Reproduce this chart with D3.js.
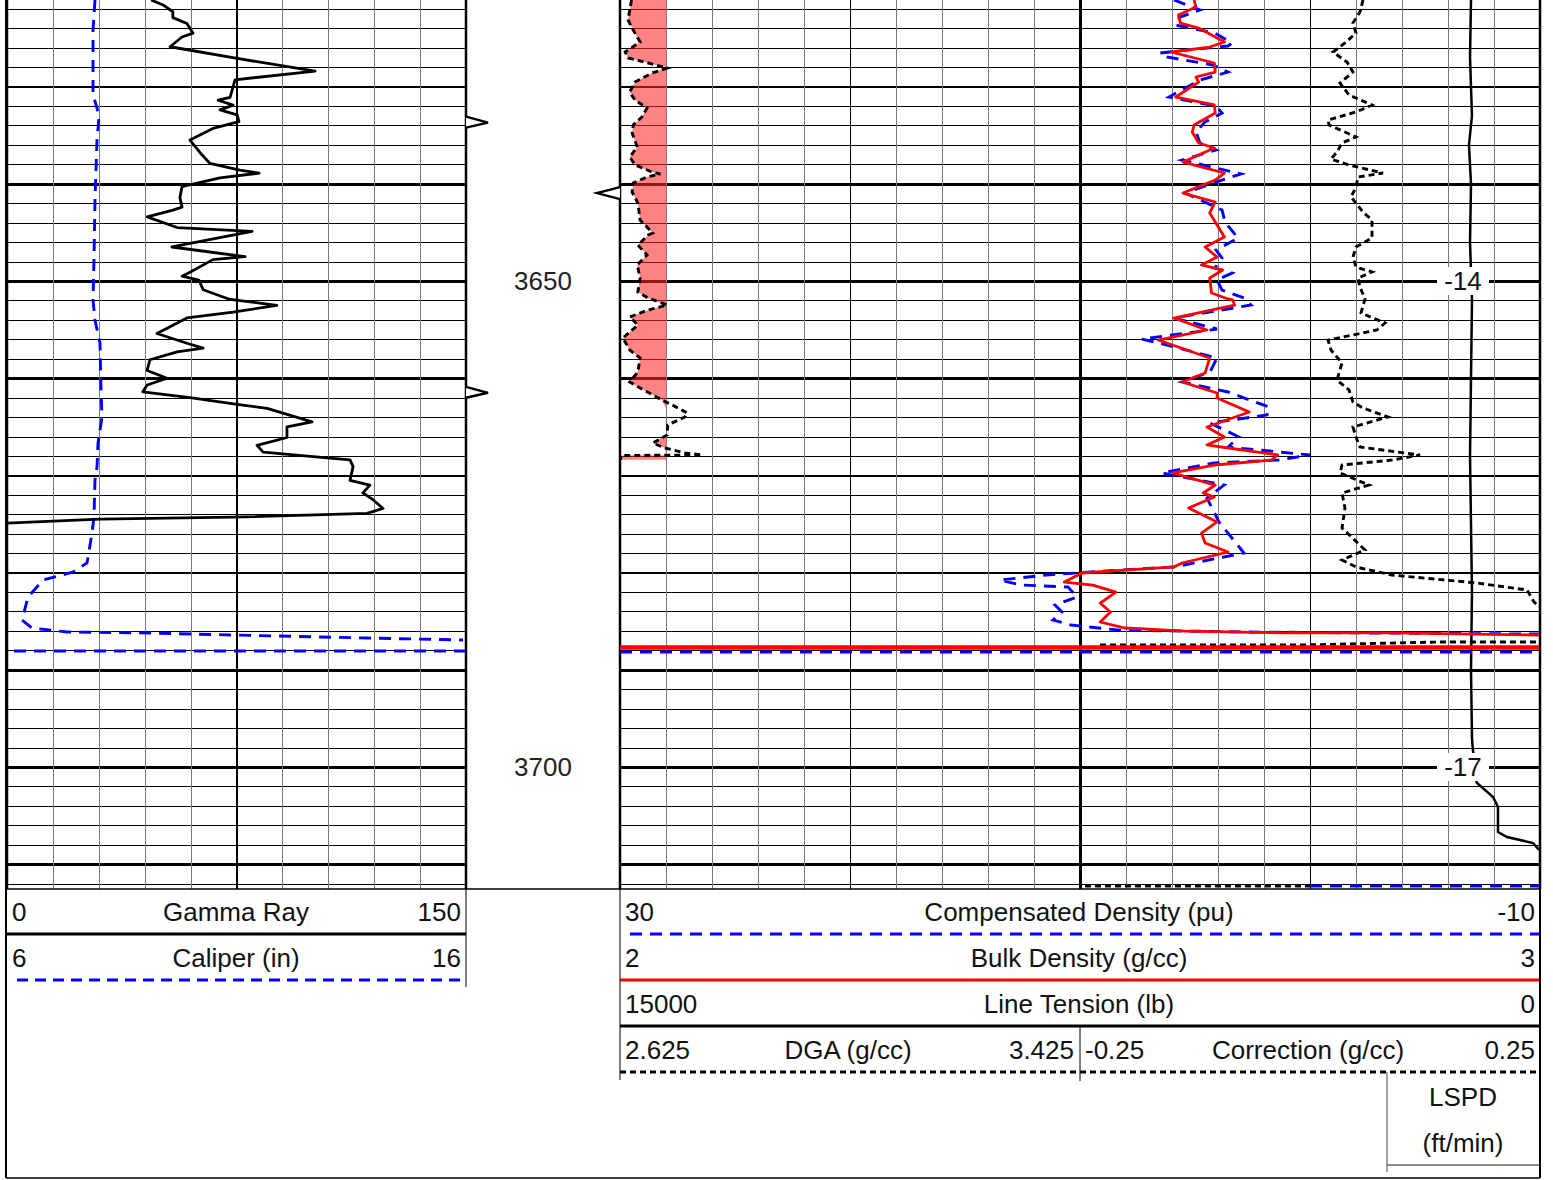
<!DOCTYPE html>
<html><head><meta charset="utf-8">
<script src="https://cdn.jsdelivr.net/npm/d3@7"></script>
<style>
body{margin:0;background:#fff}
svg{display:block}
text{font-family:"Liberation Sans",Arial,Helvetica,sans-serif;fill:#111}
</style>
</head><body>
<svg id="c" width="1553" height="1180"></svg>
<script>
// ---------- data ----------
const depthTop = 3621.09, depthBottom = 3712.55;
const depthLabels = [3650, 3700];
const lspdLabels = [[3650, "-14"], [3700, "-17"]];
const markersLeft = [3633.7, 3661.5];
const markersRight = [3640.95];

const gammaRay = [
[3621.09,47.1],[3621.6,51.0],[3622.3,54.2],[3622.9,54.2],[3623.5,58.8],[3624.5,60.8],[3624.9,57.2],[3625.9,53.3],
[3627.1,75.2],[3628.4,100.7],[3629.3,74.5],[3630.0,73.9],[3631.1,72.9],[3631.4,69.0],[3631.9,73.9],[3632.4,69.6],
[3632.9,75.2],[3633.6,75.8],[3634.3,67.3],[3635.5,59.8],[3636.8,63.1],[3637.9,66.3],[3638.6,76.1],[3638.9,82.4],
[3639.4,69.6],[3640.3,57.2],[3641.4,56.5],[3642.4,57.2],[3642.7,54.2],[3643.4,45.8],[3644.5,55.6],[3644.9,80.1],
[3646.5,53.9],[3647.5,77.8],[3647.8,67.3],[3649.1,59.8],[3649.5,57.2],[3649.9,62.7],[3650.9,64.1],[3651.9,72.9],
[3652.5,88.2],[3653.2,73.9],[3653.8,58.8],[3655.4,49.0],[3656.4,58.8],[3656.9,64.1],[3657.3,55.6],[3658.1,46.7],
[3659.2,45.8],[3660.0,52.3],[3660.7,45.8],[3661.4,44.4],[3662.0,59.8],[3662.7,75.2],[3663.1,85.0],[3664.5,99.7],
[3665.0,91.5],[3666.1,91.5],[3666.9,81.7],[3667.6,83.7],[3668.2,104.6],[3668.4,112.1],[3669.1,113.1],[3670.5,112.1],
[3671.0,118.6],[3671.8,116.3],[3672.5,119.6],[3673.4,122.9],[3673.9,117.6],[3674.3,73.9],[3674.5,30.4],[3674.9,0]
];

const caliper = [
[3621.09,7.917],[3624.18,7.874],[3630.86,7.874],[3632.20,7.961],[3633.13,8.004],[3635.49,7.961],[3641.67,7.917],
[3647.84,7.895],[3651.95,7.874],[3654.01,7.917],[3656.38,8.026],[3661.21,8.048],[3663.99,8.070],[3666.67,7.983],
[3669.13,7.961],[3670.47,7.917],[3674.28,7.895],[3675.93,7.852],[3679.01,7.743],[3679.94,7.438],[3680.76,6.784],
[3682.51,6.458],[3684.88,6.327],[3685.70,6.545],[3686.11,7.307],[3686.21,9.115],[3686.42,10.924],[3686.73,13.843],
[3686.93,15.935],
null,
[3688.07,16],[3688.07,6]
];

const compDensity = [
[3621.09,5.913],[3622.12,4.783],[3622.84,5.652],[3623.66,5.870],[3624.49,4.130],[3625.51,3.391],[3625.82,3.565],
[3626.54,6.522],[3626.95,6.217],[3627.78,4.217],[3628.50,3.565],[3629.32,4.783],[3631.07,6.130],[3631.99,4.087],
[3632.72,3.826],[3633.64,4.565],[3634.67,4.957],[3635.80,4.783],[3636.52,4.087],[3637.55,5.565],[3638.99,3.0],
[3639.61,3.826],[3640.95,5.435],[3642.69,3.826],[3643.93,3.696],[3645.58,3.130],[3646.81,4.087],[3647.63,3.826],
[3648.66,4.130],[3649.18,3.391],[3649.90,4.043],[3650.93,3.826],[3651.75,2.870],[3652.47,2.565],[3653.81,5.913],
[3654.94,4.043],[3655.97,7.304],[3656.58,6.217],[3657.92,4.043],[3659.36,4.348],[3660.39,5.565],[3661.42,3.565],
[3662.96,1.783],[3663.79,1.870],[3664.61,4.348],[3666.05,3.087],[3667.08,3.565],[3667.90,0.0],[3668.42,1.391],
[3668.72,4.174],[3669.75,6.435],[3670.99,3.739],[3672.33,4.478],[3674.79,3.957],[3677.98,2.870],[3679.42,5.913],
[3679.73,8.217],[3680.25,11.478],[3680.76,13.478],[3681.28,12.565],[3681.48,10.522],[3682.51,10.130],[3683.33,11.087],
[3684.05,10.783],[3684.88,11.174],[3685.39,10.391],[3685.91,8.348],[3686.11,2.652],[3686.21,-2.783],[3686.32,-10],
null,
[3688.17,30],[3688.17,-10],
null,
[3712.24,0],[3712.24,-10]
];

const bulkDensity = [
[3621.09,2.624],[3621.81,2.626],[3622.63,2.607],[3623.46,2.609],[3623.97,2.629],[3625.41,2.657],[3625.93,2.641],
[3626.44,2.599],[3627.57,2.646],[3628.50,2.647],[3629.01,2.626],[3629.53,2.629],[3631.07,2.604],[3631.89,2.646],
[3632.72,2.647],[3633.95,2.624],[3634.67,2.622],[3635.80,2.629],[3636.32,2.646],[3637.76,2.612],[3638.89,2.657],
[3639.61,2.647],[3640.95,2.612],[3641.87,2.647],[3643.00,2.641],[3645.47,2.657],[3646.50,2.636],[3647.53,2.649],
[3648.35,2.632],[3648.87,2.655],[3649.69,2.641],[3651.23,2.643],[3651.85,2.661],[3651.95,2.666],[3652.47,2.668],
[3653.81,2.602],[3655.04,2.638],[3656.07,2.585],[3657.92,2.641],[3659.46,2.636],[3660.39,2.611],[3661.52,2.649],
[3662.04,2.649],[3663.48,2.684],[3665.02,2.638],[3666.05,2.657],[3666.87,2.638],[3667.18,2.661],[3667.90,2.715],
[3668.42,2.708],[3668.93,2.646],[3669.75,2.601],[3670.99,2.647],[3671.81,2.634],[3672.22,2.646],[3673.35,2.618],
[3674.79,2.649],[3675.93,2.632],[3676.95,2.636],[3677.88,2.661],[3679.01,2.611],[3679.42,2.602],[3680.04,2.502],
[3680.97,2.483],[3681.28,2.514],[3682.00,2.539],[3683.13,2.522],[3684.05,2.533],[3685.08,2.522],[3685.70,2.549],
[3686.01,2.614],[3686.21,2.723],[3686.21,2.839],[3686.42,3.0],
null,
[3687.62,2.0],[3687.62,3.0],
null,
[3687.80,2.0],[3687.80,3.0]
];

const lineTension = [
[3621.09,1125],[3627,1141],[3633,1109],[3636,1158],[3640,1125],[3646,1141],[3652,1109],[3660,1125],
[3668,1141],[3675,1125],[3682,1109],[3690,1125],[3697,1109],[3698.05,1097],[3701.6,1032],[3703.08,766],
[3704.12,685],[3706.69,685],[3707.2,538],[3707.82,114],[3708.54,16]
];

const dga = [
[3621.09,2.645],[3623.15,2.639],[3624.18,2.648],[3625.41,2.660],[3626.44,2.634],[3627.06,2.639],[3627.47,2.668],
[3628.09,2.707],[3628.60,2.681],[3629.53,2.651],[3630.55,2.642],[3631.38,2.651],[3632.20,2.672],[3633.13,2.663],
[3633.95,2.648],[3634.77,2.646],[3636.21,2.655],[3637.24,2.642],[3638.06,2.651],[3638.79,2.681],[3638.99,2.695],
[3639.30,2.672],[3639.92,2.648],[3640.84,2.646],[3641.97,2.656],[3643.72,2.660],[3645.06,2.682],[3645.27,2.674],
[3646.30,2.656],[3647.32,2.672],[3648.35,2.655],[3649.69,2.660],[3651.13,2.656],[3651.75,2.674],[3652.47,2.707],
[3652.98,2.674],[3653.70,2.642],[3654.53,2.656],[3655.86,2.630],[3657.10,2.642],[3657.92,2.660],[3659.36,2.656],
[3660.39,2.642],[3661.01,2.660],[3662.24,2.698],[3663.06,2.726],[3663.58,2.742],[3663.99,2.738],[3664.81,2.708],
[3665.84,2.707],[3666.67,2.682],[3667.18,2.703],[3667.69,2.738],[3667.90,2.768],[3667.95,2.627],[3668.40,2.626]
];
const dgaCutoff = 2.705;

const correction = [
[3621.09,0.0576],[3622.32,0.0543],[3623.46,0.0467],[3624.49,0.05],[3625.51,0.038],[3626.44,0.025],[3627.47,0.0402],
[3628.50,0.0467],[3629.63,0.0326],[3630.86,0.0424],[3631.89,0.0674],[3632.61,0.05],[3633.44,0.0196],[3633.95,0.0207],
[3635.18,0.05],[3635.80,0.0348],[3636.73,0.0293],[3637.45,0.0228],[3638.07,0.0424],[3638.89,0.0793],[3639.30,0.0522],
[3640.33,0.05],[3641.36,0.0446],[3642.90,0.0576],[3643.72,0.0674],[3645.58,0.0674],[3646.50,0.05],[3647.53,0.0467],
[3648.56,0.05],[3649.07,0.0674],[3649.69,0.0522],[3650.62,0.0543],[3651.85,0.0598],[3653.29,0.0554],[3654.32,0.0815],
[3655.04,0.0728],[3656.07,0.0196],[3657.10,0.0228],[3658.44,0.0348],[3660.18,0.0293],[3661.21,0.0424],[3662.45,0.0467],
[3663.07,0.0576],[3663.99,0.0848],[3665.02,0.0467],[3666.05,0.05],[3667.08,0.0543],[3667.90,0.1196],[3668.42,0.0891],
[3668.93,0.0348],[3669.75,0.0326],[3670.99,0.0641],[3671.81,0.0348],[3673.35,0.038],[3675.41,0.0348],[3677.67,0.0598],
[3678.70,0.0348],[3679.42,0.05],[3680.25,0.0891],[3681.07,0.1815],[3681.79,0.2359],[3683.02,0.2435],[3683.54,0.25],
null,
[3687.45,-0.2283],[3687.45,-0.0109],[3687.14,0.1413],[3687.14,0.25],
null,
[3712.24,-0.2446],[3712.24,0]
];

// header definitions
const leftHeader = [
  {lo:"0", name:"Gamma Ray", hi:"150", color:"#000", dash:null, w:3},
  {lo:"6", name:"Caliper (in)", hi:"16", color:"#0000ff", dash:"11,7", w:3}
];
const rightHeader = [
  {lo:"30", name:"Compensated Density (pu)", hi:"-10", color:"#0000ff", dash:"12,8", w:3},
  {lo:"2", name:"Bulk Density (g/cc)", hi:"3", color:"#ff0000", dash:null, w:3},
  {lo:"15000", name:"Line Tension (lb)", hi:"0", color:"#000", dash:null, w:3}
];

// ---------- layout ----------
const svg = d3.select("#c");
const FS = 26;
const plotH = 889;
const LT = [7, 466], RT = [620, 1540];
const y = d3.scaleLinear().domain([depthTop, depthBottom]).range([0, plotH]);
const xGR = d3.scaleLinear().domain([0,150]).range(LT);
const xCal = d3.scaleLinear().domain([6,16]).range(LT);
const xComp = d3.scaleLinear().domain([30,-10]).range(RT);
const xBulk = d3.scaleLinear().domain([2,3]).range(RT);
const xTen = d3.scaleLinear().domain([15000,0]).range(RT);
const xDGA = d3.scaleLinear().domain([2.625,3.425]).range([620,1080]);
const xCor = d3.scaleLinear().domain([-0.25,0.25]).range([1080,1540]);

const defs = svg.append("defs");
defs.append("clipPath").attr("id","clipL").append("rect").attr("x",LT[0]).attr("y",0).attr("width",LT[1]-LT[0]).attr("height",plotH);
defs.append("clipPath").attr("id","clipR").append("rect").attr("x",RT[0]).attr("y",0).attr("width",RT[1]-RT[0]).attr("height",plotH);

const minorDepths = d3.range(3622, 3713, 2);

function grid(xs, x0, x1, vTicks, majorV, extraMajor) {
  const g = svg.append("g");
  const hg = g.append("g").attr("transform",`translate(${x0},0)`)
    .call(d3.axisRight(y).tickValues(minorDepths).tickSize(x1-x0).tickFormat(""));
  hg.select(".domain").remove();
  hg.selectAll(".tick line").attr("stroke","#000")
    .attr("stroke-width", d => d % 10 === 0 ? 2.6 : 1)
    .attr("shape-rendering","crispEdges");
  const vg = g.append("g")
    .call(d3.axisBottom(xs).tickValues(vTicks).tickSize(plotH).tickFormat(""));
  vg.select(".domain").remove();
  vg.selectAll(".tick line")
    .attr("stroke", (d,i) => majorV.includes(i) ? "#000" : "#7a7a7a")
    .attr("stroke-width", (d,i) => extraMajor.includes(i) ? 2.4 : (majorV.includes(i) ? 1.6 : 1))
    .attr("shape-rendering","crispEdges");
  g.append("line").attr("x1",x0).attr("x2",x0).attr("y1",0).attr("y2",plotH).attr("stroke","#000").attr("stroke-width",2.5);
  g.append("line").attr("x1",x1).attr("x2",x1).attr("y1",0).attr("y2",plotH).attr("stroke","#000").attr("stroke-width",2.5);
}
grid(xGR, LT[0], LT[1], d3.range(15,150,15), [4], []);
grid(xComp, RT[0], RT[1], d3.range(28,-10,-2), [4,9,14], [9]);

// ---------- curves ----------
const mk = xs => d3.line().defined(d => d != null).x(d => xs(d[1])).y(d => y(d[0]));

const gL = svg.append("g").attr("clip-path","url(#clipL)");
gL.append("path").datum(caliper).attr("d", mk(xCal)).attr("fill","none")
  .attr("stroke","#0000ff").attr("stroke-width",2.9).attr("stroke-dasharray","12,8");
gL.append("path").datum(gammaRay).attr("d", mk(xGR)).attr("fill","none")
  .attr("stroke","#000").attr("stroke-width",2.8).attr("stroke-linejoin","round");

const gR = svg.append("g").attr("clip-path","url(#clipR)");
const area = d3.area().y(d => y(d[0])).x0(xDGA(dgaCutoff)).x1(d => Math.min(xDGA(d[1]), xDGA(dgaCutoff)));
gR.append("path").datum(dga).attr("d", area).attr("fill","#ff2a2a").attr("fill-opacity",0.58);
gR.append("path").datum(dga).attr("d", mk(xDGA)).attr("fill","none")
  .attr("stroke","#000").attr("stroke-width",2.9).attr("stroke-dasharray","6,4");
gR.append("path").datum(lineTension).attr("d", mk(xTen)).attr("fill","none")
  .attr("stroke","#000").attr("stroke-width",2.5);
gR.append("path").datum(correction).attr("d", mk(xCor)).attr("fill","none")
  .attr("stroke","#000").attr("stroke-width",2.9).attr("stroke-dasharray","6,4");
gR.append("path").datum(compDensity).attr("d", mk(xComp)).attr("fill","none")
  .attr("stroke","#0000ff").attr("stroke-width",2.9).attr("stroke-dasharray","12,8");
gR.append("path").datum(bulkDensity).attr("d", mk(xBulk)).attr("fill","none")
  .attr("stroke","#ff0000").attr("stroke-width",2.8).attr("stroke-linejoin","round");

// LSPD labels
lspdLabels.forEach(([d, t]) => {
  svg.append("rect").attr("x",1437).attr("y",y(d)-14).attr("width",52).attr("height",28).attr("fill","#fff");
  svg.append("text").attr("x",1463).attr("y",y(d)+9).attr("text-anchor","middle")
    .attr("font-size",FS).text(t);
});

// depth labels
depthLabels.forEach(d => {
  svg.append("text").attr("x",543).attr("y",y(d)+9).attr("text-anchor","middle")
    .attr("font-size",FS).style("fill","#222").text(d);
});

// markers
markersLeft.forEach(d => {
  const yy = y(d);
  svg.append("path").attr("d",`M466,${yy-6}L488,${yy}L466,${yy+5}`).attr("fill","#fff")
    .attr("stroke","#000").attr("stroke-width",2.4);
});
markersRight.forEach(d => {
  const yy = y(d);
  svg.append("path").attr("d",`M620,${yy-6}L597,${yy}L620,${yy+6}`).attr("fill","#fff")
    .attr("stroke","#000").attr("stroke-width",2.4);
});

// ---------- header ----------
const hy = plotH;
const rowH = 46;
svg.append("line").attr("x1",6).attr("x2",1540).attr("y1",hy).attr("y2",hy).attr("stroke","#000").attr("stroke-width",1.5);

function headerRow(x0, x1, row, i, centerX) {
  const top = hy + i*rowH;
  svg.append("text").attr("x",x0+5).attr("y",top+32).attr("font-size",FS).text(row.lo);
  svg.append("text").attr("x",centerX).attr("y",top+32).attr("text-anchor","middle").attr("font-size",FS).text(row.name);
  svg.append("text").attr("x",x1-5).attr("y",top+32).attr("text-anchor","end").attr("font-size",FS).text(row.hi);
  const ln = svg.append("line").attr("x1",row.dash ? x0+10 : x0).attr("x2",x1).attr("y1",top+rowH-1).attr("y2",top+rowH-1)
    .attr("stroke",row.color).attr("stroke-width",row.w);
  if (row.dash) ln.attr("stroke-dasharray",row.dash);
}
leftHeader.forEach((r,i) => headerRow(LT[0], LT[1], r, i, 236));
rightHeader.forEach((r,i) => headerRow(RT[0], RT[1], r, i, 1079));

// DGA / Correction row
{
  const top = hy + 3*rowH;
  const ty = top+32;
  svg.append("text").attr("x",625).attr("y",ty).attr("font-size",FS).text("2.625");
  svg.append("text").attr("x",848).attr("y",ty).attr("text-anchor","middle").attr("font-size",FS).text("DGA (g/cc)");
  svg.append("text").attr("x",1074).attr("y",ty).attr("text-anchor","end").attr("font-size",FS).text("3.425");
  svg.append("text").attr("x",1085).attr("y",ty).attr("font-size",FS).text("-0.25");
  svg.append("text").attr("x",1308).attr("y",ty).attr("text-anchor","middle").attr("font-size",FS).text("Correction (g/cc)");
  svg.append("text").attr("x",1535).attr("y",ty).attr("text-anchor","end").attr("font-size",FS).text("0.25");
  svg.append("line").attr("x1",620).attr("x2",1540).attr("y1",top+rowH-1).attr("y2",top+rowH-1)
    .attr("stroke","#000").attr("stroke-width",3).attr("stroke-dasharray","6,4");
  svg.append("line").attr("x1",1080).attr("x2",1080).attr("y1",top).attr("y2",top+rowH+8).attr("stroke","#000").attr("stroke-width",1);
}
// LSPD box
svg.append("line").attr("x1",1387).attr("x2",1387).attr("y1",1072).attr("y2",1172).attr("stroke","#666").attr("stroke-width",1.2);
svg.append("line").attr("x1",1387).attr("x2",1540).attr("y1",1165).attr("y2",1165).attr("stroke","#666").attr("stroke-width",1.5);
svg.append("text").attr("x",1463).attr("y",1106).attr("text-anchor","middle").attr("font-size",FS).text("LSPD");
svg.append("text").attr("x",1463).attr("y",1152).attr("text-anchor","middle").attr("font-size",FS).text("(ft/min)");

// header verticals
svg.append("line").attr("x1",466).attr("x2",466).attr("y1",hy).attr("y2",hy+98).attr("stroke","#000").attr("stroke-width",1);
svg.append("line").attr("x1",620).attr("x2",620).attr("y1",hy).attr("y2",1080).attr("stroke","#000").attr("stroke-width",1);

// outer frame
svg.append("line").attr("x1",6).attr("x2",6).attr("y1",0).attr("y2",1178).attr("stroke","#000").attr("stroke-width",2);
svg.append("line").attr("x1",1540).attr("x2",1540).attr("y1",0).attr("y2",1178).attr("stroke","#000").attr("stroke-width",2);
svg.append("line").attr("x1",6).attr("x2",1540).attr("y1",1178).attr("y2",1178).attr("stroke","#000").attr("stroke-width",1.5);
</script>
</body></html>
